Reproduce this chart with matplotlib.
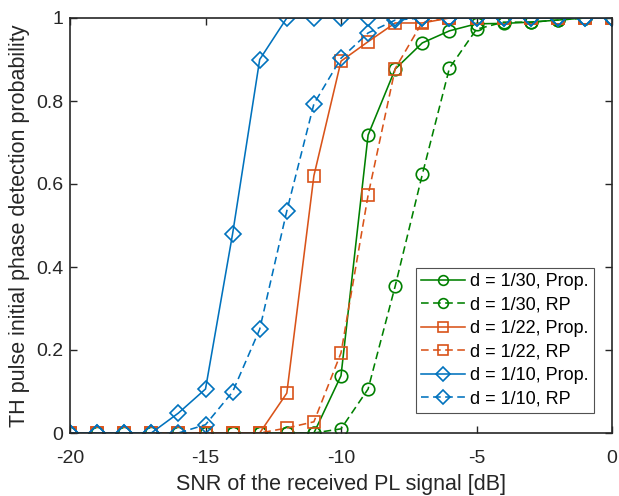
import numpy as np
import matplotlib.pyplot as plt

plt.rcParams['font.family'] = ['Liberation Sans', 'DejaVu Sans']
plt.rcParams['axes.unicode_minus'] = False
plt.rcParams['lines.scale_dashes'] = False

snr = np.arange(-20, 1, 1)

# d = 1/30
p30_prop = [0, 0, 0, 0, 0, 0, 0, 0, 0, 0, 0.138, 0.718, 0.877, 0.94, 0.969, 0.986, 0.987, 0.99, 0.995, 1, 1]
p30_rp = [0, 0, 0, 0, 0, 0, 0, 0, 0, 0, 0.01, 0.106, 0.354, 0.623, 0.879, 0.973, 0.99, 0.99, 0.995, 1, 1]
# d = 1/22
p22_prop = [0, 0, 0, 0, 0, 0, 0, 0, 0.096, 0.62, 0.896, 0.943, 0.988, 0.988, 1, 1, 1, 1, 1, 1, 1]
p22_rp = [0, 0, 0, 0, 0, 0, 0, 0, 0.012, 0.027, 0.193, 0.573, 0.878, 0.99, 1, 1, 1, 1, 1, 1, 1]
# d = 1/10
p10_prop = [0, 0, 0, 0, 0.048, 0.106, 0.48, 0.90, 1, 1, 1, 1, 1, 1, 1, 1, 1, 1, 1, 1, 1]
p10_rp = [0, 0, 0, 0, 0, 0.02, 0.099, 0.25, 0.535, 0.793, 0.903, 0.964, 0.995, 1, 1, 1, 1, 1, 1, 1, 1]

green = '#008000'
orange = '#D95319'
blue = '#0072BD'
dark = '#262626'

fig = plt.figure(figsize=(6.19, 4.96), dpi=100)
ax = fig.add_axes([70 / 619, 1 - 433 / 496, 542 / 619, 415 / 496])

mk = dict(markersize=9, markerfacecolor='none', markeredgewidth=1.2, linewidth=1.15)
dash = (0, (5.5, 3.2))
ax.plot(snr, p30_prop, '-o', color=green, label='d = 1/30, Prop.', **mk)
ax.plot(snr, p30_rp, 'o', linestyle=dash, color=green, label='d = 1/30, RP', **mk)
ax.plot(snr, p22_prop, '-s', color=orange, label='d = 1/22, Prop.', **mk)
ax.plot(snr, p22_rp, 's', linestyle=dash, color=orange, label='d = 1/22, RP', **mk)
ax.plot(snr, p10_prop, '-D', color=blue, label='d = 1/10, Prop.', **dict(mk, markersize=8))
ax.plot(snr, p10_rp, 'D', linestyle=dash, color=blue, label='d = 1/10, RP', **dict(mk, markersize=8))

ax.set_xlim(-20, 0)
ax.set_ylim(0, 1)
ax.set_xticks([-20, -15, -10, -5, 0])
ax.set_yticks([0, 0.2, 0.4, 0.6, 0.8, 1])
ax.set_yticklabels(['0', '0.2', '0.4', '0.6', '0.8', '1'])
ax.tick_params(direction='in', top=True, right=True, labelsize=14, length=5, width=1, colors=dark)
ax.tick_params(axis='x', pad=12)
ax.tick_params(axis='y', pad=5)
for s in ax.spines.values():
    s.set_linewidth(1.2)
    s.set_color(dark)
ax.set_xlabel('SNR of the received PL signal [dB]', fontsize=15.5, color=dark, labelpad=5)
ax.set_ylabel('TH pulse initial phase detection probability', fontsize=15.5, color=dark, labelpad=4)

leg = ax.legend(loc='lower right', bbox_to_anchor=(0.9668, 0.048), fontsize=13, frameon=True,
                fancybox=False, edgecolor=dark, handlelength=2.4, borderpad=0.3,
                labelspacing=0.36, handletextpad=0.3, borderaxespad=0)
leg.get_frame().set_linewidth(0.8)
for h in leg.legend_handles:
    h.set_markersize(7)

fig.savefig('out.png', dpi=100)
